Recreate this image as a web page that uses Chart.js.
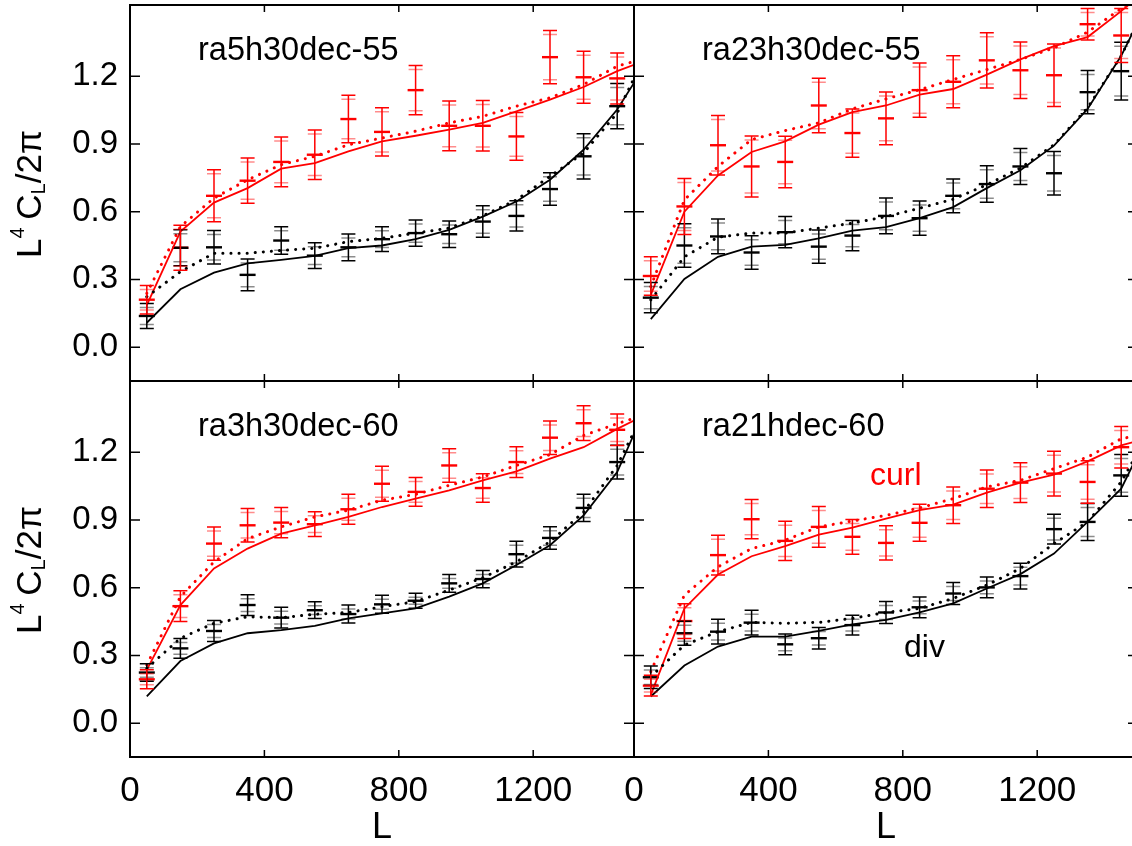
<!DOCTYPE html>
<html>
<head>
<meta charset="utf-8">
<script src="https://cdn.jsdelivr.net/npm/chart.js@4.4.1/dist/chart.umd.min.js"></script>
<style>
html,body{margin:0;padding:0;overflow:hidden;background:#fff;width:1132px;height:846px}
#wrap{position:relative;width:1132px;height:846px;overflow:hidden;background:#fff}
#wrap canvas{position:absolute;left:0;top:0}
</style>
</head>
<body>
<div id="wrap">
<canvas id="c0" width="1140" height="846"></canvas>
<canvas id="c1" width="1140" height="846"></canvas>
<canvas id="c2" width="1140" height="846"></canvas>
<canvas id="c3" width="1140" height="846"></canvas>
</div>
<script>
// ---------------- data ----------------
const L_DATA  = [50,150,250,350,450,550,650,750,850,950,1050,1150,1250,1350,1450];
const L_MODEL = [50,150,250,350,450,550,650,750,850,950,1050,1150,1250,1350,1450,1500];
const X_TICKS = [0,400,800,1200];
const Y_TICKS = [0.0,0.3,0.6,0.9,1.2];
const PANEL_TITLES = ['ra5h30dec-55','ra23h30dec-55','ra3h30dec-60','ra21hdec-60'];

// panel 1: ra5h30dec-55
const curl1     = [0.21,0.44,0.67,0.737,0.82,0.852,1.01,0.953,1.138,0.98,0.98,0.933,1.284,1.195,1.19];
const curlErr1  = [0.063,0.10,0.115,0.10,0.11,0.11,0.105,0.107,0.109,0.11,0.112,0.106,0.118,0.115,0.113];
const div1      = [0.138,0.44,0.442,0.32,0.472,0.405,0.442,0.478,0.505,0.50,0.556,0.581,0.70,0.845,1.067];
const divErr1   = [0.055,0.08,0.074,0.07,0.061,0.057,0.059,0.055,0.058,0.059,0.07,0.067,0.072,0.10,0.10];
const curlFit1  = [0.186,0.512,0.64,0.704,0.79,0.815,0.867,0.911,0.936,0.963,0.993,1.044,1.096,1.152,1.222,1.25];
const curlAlt1  = [0.238,0.534,0.66,0.741,0.808,0.845,0.896,0.926,0.956,0.993,1.022,1.067,1.104,1.163,1.244,1.265];
const divFit1   = [0.108,0.256,0.33,0.371,0.386,0.404,0.438,0.45,0.478,0.519,0.578,0.645,0.741,0.874,1.052,1.17];
const divAlt1   = [0.223,0.334,0.416,0.416,0.428,0.438,0.467,0.482,0.505,0.527,0.581,0.652,0.756,0.86,1.037,1.19];

// panel 2: ra23h30dec-55
const curl2     = [0.315,0.623,0.894,0.80,0.82,1.07,0.948,1.013,1.138,1.175,1.27,1.226,1.204,1.43,1.38];
const curlErr2  = [0.085,0.124,0.132,0.135,0.114,0.121,0.107,0.117,0.12,0.115,0.122,0.125,0.138,0.07,0.12];
const div2      = [0.219,0.45,0.49,0.419,0.509,0.445,0.494,0.581,0.571,0.67,0.722,0.80,0.77,1.129,1.222];
const divErr2   = [0.067,0.096,0.077,0.074,0.069,0.074,0.067,0.079,0.076,0.075,0.081,0.08,0.096,0.096,0.128];
const curlFit2  = [0.231,0.60,0.76,0.864,0.911,0.985,1.041,1.07,1.118,1.143,1.207,1.274,1.333,1.373,1.488,1.55];
const curlAlt2  = [0.268,0.652,0.80,0.919,0.959,0.993,1.055,1.099,1.14,1.185,1.229,1.274,1.325,1.395,1.499,1.56];
const divFit2   = [0.124,0.302,0.40,0.445,0.453,0.482,0.516,0.531,0.571,0.62,0.704,0.783,0.892,1.055,1.29,1.44];
const divAlt2   = [0.209,0.40,0.487,0.505,0.505,0.527,0.549,0.578,0.615,0.655,0.719,0.793,0.896,1.06,1.29,1.44];

// panel 3: ra3h30dec-60
const curl3     = [0.194,0.518,0.795,0.876,0.888,0.881,0.947,1.06,1.024,1.141,1.041,1.156,1.264,1.328,1.299];
const curlErr3  = [0.042,0.068,0.074,0.074,0.067,0.055,0.066,0.077,0.064,0.074,0.063,0.068,0.074,0.077,0.07];
const div3      = [0.224,0.331,0.408,0.523,0.467,0.50,0.483,0.526,0.542,0.619,0.638,0.748,0.82,0.953,1.156];
const divErr3   = [0.039,0.044,0.046,0.046,0.046,0.037,0.04,0.04,0.033,0.039,0.038,0.057,0.05,0.06,0.075];
const curlFit3  = [0.236,0.523,0.685,0.773,0.839,0.876,0.913,0.957,0.994,1.031,1.075,1.115,1.171,1.222,1.303,1.34];
const curlAlt3  = [0.258,0.56,0.714,0.817,0.869,0.913,0.943,0.987,1.013,1.053,1.09,1.141,1.189,1.274,1.326,1.35];
const divFit3   = [0.118,0.275,0.353,0.398,0.412,0.431,0.464,0.486,0.508,0.56,0.619,0.70,0.788,0.92,1.112,1.28];
const divAlt3   = [0.243,0.376,0.442,0.471,0.467,0.482,0.49,0.515,0.538,0.589,0.644,0.714,0.803,0.935,1.141,1.29];

// panel 4: ra21hdec-60
const curl4     = [0.166,0.452,0.744,0.903,0.807,0.869,0.825,0.798,0.887,0.965,1.038,1.065,1.105,1.068,1.222];
const curlErr4  = [0.046,0.077,0.088,0.087,0.087,0.09,0.077,0.076,0.082,0.081,0.083,0.088,0.099,0.094,0.092];
const div4      = [0.203,0.398,0.405,0.445,0.349,0.376,0.434,0.49,0.513,0.574,0.601,0.651,0.859,0.891,1.097];
const divErr4   = [0.05,0.053,0.055,0.055,0.046,0.048,0.044,0.049,0.046,0.049,0.046,0.057,0.066,0.082,0.092];
const curlFit4  = [0.125,0.508,0.658,0.739,0.784,0.835,0.866,0.906,0.943,0.968,1.021,1.065,1.10,1.159,1.23,1.25];
const curlAlt4  = [0.228,0.567,0.692,0.773,0.81,0.869,0.895,0.92,0.953,0.994,1.046,1.075,1.127,1.178,1.259,1.275];
const divFit4   = [0.118,0.255,0.339,0.383,0.383,0.408,0.437,0.457,0.49,0.53,0.596,0.66,0.751,0.891,1.038,1.19];
const divAlt4   = [0.206,0.346,0.405,0.446,0.442,0.446,0.464,0.49,0.508,0.552,0.611,0.685,0.795,0.891,1.068,1.2];

// ---------------- drawing ----------------
const FONT = '"Liberation Sans", Arial, Helvetica, sans-serif';
const RED = '#ff0000', BLACK = '#000000';
const CW = 1140, CH = 846;
const pts = (xs, ys) => ys.map((v, i) => ({x: xs[i], y: v}));

const errorBars = {
  id: 'errorBars',
  afterDatasetsDraw(chart) {
    const {ctx, chartArea: a, scales: {y}} = chart;
    ctx.save();
    ctx.beginPath(); ctx.rect(a.left, a.top, a.right - a.left, a.bottom - a.top); ctx.clip();
    chart.data.datasets.forEach((ds, di) => {
      if (!ds.errs) return;
      const meta = chart.getDatasetMeta(di);
      meta.data.forEach((el, i) => {
        const v = ds.data[i].y, e = ds.errs[i];
        const x = el.x, yh = y.getPixelForValue(v + e), yl = y.getPixelForValue(v - e);
        ctx.lineWidth = 1.5;
        ctx.strokeStyle = ds.borderColor;
        ctx.beginPath();
        ctx.moveTo(x, yh); ctx.lineTo(x, yl);
        ctx.moveTo(x - 7, yh); ctx.lineTo(x + 7, yh);
        ctx.moveTo(x - 7, yl); ctx.lineTo(x + 7, yl);
        ctx.stroke();
        ctx.strokeStyle = ds.lightColor;
        ctx.beginPath();
        ctx.moveTo(x - 7, yh + 4); ctx.lineTo(x + 7, yh + 4);
        ctx.moveTo(x - 7, yl - 4); ctx.lineTo(x + 7, yl - 4);
        ctx.stroke();
      });
    });
    ctx.restore();
  }
};

const frame = {
  id: 'frame',
  afterDraw(chart) {
    const {ctx, chartArea: a, scales: {x, y}} = chart;
    ctx.save();
    ctx.strokeStyle = '#000';
    ctx.lineWidth = 2;
    ctx.strokeRect(a.left, a.top, a.right - a.left, a.bottom - a.top);
    ctx.lineWidth = 1.5;
    ctx.beginPath();
    X_TICKS.forEach(v => {
      const px = x.getPixelForValue(v);
      ctx.moveTo(px, a.bottom); ctx.lineTo(px, a.bottom - 7);
      ctx.moveTo(px, a.top); ctx.lineTo(px, a.top + 7);
    });
    Y_TICKS.forEach(v => {
      const py = y.getPixelForValue(v);
      ctx.moveTo(a.left, py); ctx.lineTo(a.left + 10, py);
      ctx.moveTo(a.right, py); ctx.lineTo(a.right - 10, py);
    });
    ctx.stroke();
    ctx.restore();
  }
};

function makeTextPlugin(cfg) {
  return {
    id: 'panelText',
    afterDraw(chart) {
      const {ctx, chartArea: a} = chart;
      ctx.save();
      ctx.fillStyle = '#000';
      ctx.textBaseline = 'alphabetic';
      ctx.textAlign = 'left';
      ctx.font = '32.5px ' + FONT;
      ctx.fillText(cfg.title, a.left + 68, a.top + 55);
      (cfg.notes || []).forEach(n => {
        ctx.fillStyle = n.color;
        ctx.font = '32px ' + FONT;
        ctx.fillText(n.text, n.x, n.y);
      });
      if (cfg.showY) {
        const parts = [
          {t: 'L', s: 35, dy: 0},
          {t: '4', s: 20, dy: -17},
          {t: ' ', s: 28, dy: 0},
          {t: 'C', s: 35, dy: 0},
          {t: 'L', s: 20, dy: 4},
          {t: '/2\u03C0', s: 35, dy: 0}
        ];
        let total = 0;
        parts.forEach(p => { ctx.font = p.s + 'px ' + FONT; p.w = ctx.measureText(p.t).width; total += p.w; });
        ctx.translate(41, (a.top + a.bottom) / 2 + 1);
        ctx.rotate(-Math.PI / 2);
        ctx.fillStyle = '#000';
        let xx = -total / 2;
        parts.forEach(p => {
          ctx.font = p.s + 'px ' + FONT;
          ctx.fillText(p.t, xx, p.dy);
          xx += p.w;
        });
      }
      ctx.restore();
    }
  };
}

function makePanel(id, cfg) {
  const ds = [
    {data: pts(L_MODEL, cfg.divFit), borderColor: BLACK, borderWidth: 1.8, pointRadius: 0, fill: false, tension: 0},
    {data: pts(L_MODEL, cfg.divAlt), borderColor: BLACK, borderWidth: 3, borderDash: [0.1, 8], borderCapStyle: 'round', pointRadius: 0, fill: false, tension: 0},
    {data: pts(L_MODEL, cfg.curlFit), borderColor: RED, borderWidth: 1.8, pointRadius: 0, fill: false, tension: 0},
    {data: pts(L_MODEL, cfg.curlAlt), borderColor: RED, borderWidth: 3, borderDash: [0.1, 8], borderCapStyle: 'round', pointRadius: 0, fill: false, tension: 0},
    {data: pts(L_DATA, cfg.div), errs: cfg.divErr, showLine: false, borderColor: BLACK, lightColor: 'rgba(0,0,0,0.45)',
     pointStyle: 'line', pointRadius: 8, pointBorderWidth: 2.4, pointBorderColor: BLACK},
    {data: pts(L_DATA, cfg.curl), errs: cfg.curlErr, showLine: false, borderColor: RED, lightColor: 'rgba(255,0,0,0.45)',
     pointStyle: 'line', pointRadius: 8, pointBorderWidth: 2.4, pointBorderColor: RED}
  ];
  new Chart(document.getElementById(id), {
    type: 'line',
    data: {datasets: ds},
    options: {
      responsive: false,
      animation: false,
      devicePixelRatio: 1,
      events: [],
      layout: {autoPadding: false, padding: {left: 0, top: cfg.top, right: CW - cfg.right, bottom: 0}},
      plugins: {legend: {display: false}, tooltip: {enabled: false}, title: {display: false}},
      scales: {
        x: {
          type: 'linear', min: 0, max: 1500, position: 'bottom',
          afterFit(s) { s.height = CH - cfg.bottom; s.paddingLeft = 0; s.paddingRight = 0; s.paddingTop = 0; s.paddingBottom = 0; },
          afterBuildTicks(s) { s.ticks = X_TICKS.map(v => ({value: v})); },
          grid: {display: false, drawTicks: false},
          border: {display: false},
          ticks: {display: cfg.showX, padding: 17, color: '#000', autoSkip: false, maxRotation: 0,
                  font: {family: FONT, size: 35, lineHeight: 1},
                  callback: v => String(v)},
          title: {display: cfg.showX, text: 'L', color: '#000', padding: 0,
                  font: {family: FONT, size: 36, lineHeight: 1}}
        },
        y: {
          type: 'linear', min: -0.15, max: 1.515, position: 'left',
          afterFit(s) { s.width = cfg.left; s.paddingLeft = 0; s.paddingRight = 0; s.paddingTop = 0; s.paddingBottom = 0; },
          afterBuildTicks(s) { s.ticks = Y_TICKS.map(v => ({value: v})); },
          grid: {display: false, drawTicks: false},
          border: {display: false},
          ticks: {display: cfg.showY, padding: 12, color: '#000',
                  font: {family: FONT, size: 33, lineHeight: 1},
                  callback: v => Number(v).toFixed(1)}
        }
      }
    },
    plugins: [errorBars, frame, makeTextPlugin(cfg)]
  });
}

makePanel('c0', {left: 130, right: 634, top: 5, bottom: 381, showX: false, showY: true, title: PANEL_TITLES[0],
  curl: curl1, curlErr: curlErr1, div: div1, divErr: divErr1, curlFit: curlFit1, curlAlt: curlAlt1, divFit: divFit1, divAlt: divAlt1});
makePanel('c1', {left: 634, right: 1138, top: 5, bottom: 381, showX: false, showY: false, title: PANEL_TITLES[1],
  curl: curl2, curlErr: curlErr2, div: div2, divErr: divErr2, curlFit: curlFit2, curlAlt: curlAlt2, divFit: divFit2, divAlt: divAlt2});
makePanel('c2', {left: 130, right: 634, top: 381, bottom: 757, showX: true, showY: true, title: PANEL_TITLES[2],
  curl: curl3, curlErr: curlErr3, div: div3, divErr: divErr3, curlFit: curlFit3, curlAlt: curlAlt3, divFit: divFit3, divAlt: divAlt3});
makePanel('c3', {left: 634, right: 1138, top: 381, bottom: 757, showX: true, showY: false, title: PANEL_TITLES[3],
  curl: curl4, curlErr: curlErr4, div: div4, divErr: divErr4, curlFit: curlFit4, curlAlt: curlAlt4, divFit: divFit4, divAlt: divAlt4,
  notes: [{text: 'curl', color: RED, x: 870, y: 485}, {text: 'div', color: BLACK, x: 904, y: 657}]});
</script>
</body>
</html>
